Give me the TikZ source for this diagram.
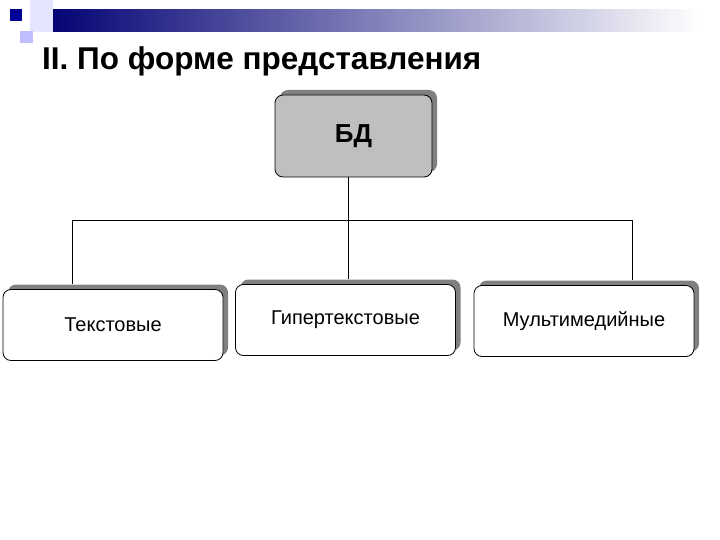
\documentclass[tikz,border=0pt]{standalone}
\usepackage{fontspec}
\setmainfont{Liberation Sans}
\usetikzlibrary{shadows}

\tikzset{
  kind/.style={draw=black, line width=0.8pt, rounded corners=8pt, fill=white,
    drop shadow={shadow xshift=5pt, shadow yshift=5pt, fill=black!50, opacity=1},
    minimum width=220pt, minimum height=71pt, font=\fontsize{20}{22}\selectfont},
  link/.style={draw=black, line width=0.8pt}
}

\begin{document}
\begin{tikzpicture}[x=1pt,y=-1pt]
\useasboundingbox (0,0) rectangle (720,540);
% slide decoration
\shade [left color=blue!45!black, right color=white] (42,10) rectangle (700,32);
\fill [blue!10] (30,0) rectangle (53,32);
\fill [blue!25] (20,31) rectangle (33,43);
\fill [blue!60!black] (10,9) rectangle (22,21);
\node [anchor=base west, inner sep=0pt, font=\fontsize{31.5}{34}\selectfont\bfseries] (title) at (42,70) {II. По форме представления};
% nodes
\node [kind, fill=black!25, minimum width=157pt, minimum height=82pt, font=\fontsize{26}{28}\selectfont\bfseries] (bd) at (353.5,136) {БД};
\node [kind] (txt) at (113,325) {Текстовые};
\node [kind] (hyper) at (345.5,320) {Гипертекстовые};
\node [kind] (multi) at (584,321) {Мультимедийные};
% connectors
\coordinate (mid) at (348,220);
\coordinate (l) at (72,220);
\coordinate (r) at (632,220);
\draw [link] (mid |- bd.south) -- ([yshift=5pt]mid |- hyper.north);
\draw [link] ([yshift=5pt]l |- txt.north) -- (l) -- (r) -- ([yshift=5pt]r |- multi.north);
\end{tikzpicture}
\end{document}
